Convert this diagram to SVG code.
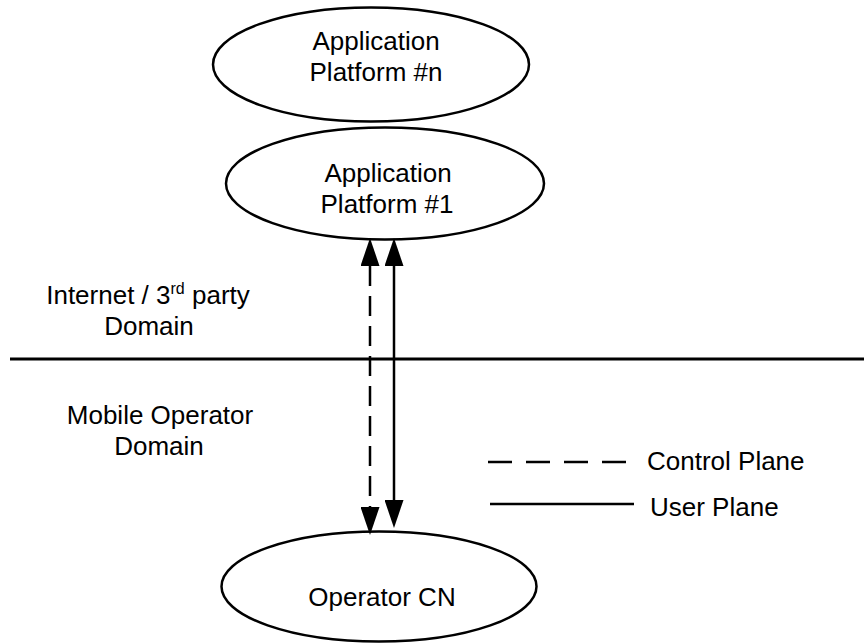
<svg xmlns="http://www.w3.org/2000/svg" width="864" height="644" viewBox="0 0 864 644">
  <style>
    .node { fill: #ffffff; stroke: #000000; stroke-width: 2.5; }
    .lbl { font-family: "Liberation Sans", Arial, sans-serif; font-size: 26px; fill: #000000; text-anchor: middle; }
    .leg { font-family: "Liberation Sans", Arial, sans-serif; font-size: 26px; fill: #000000; }
    .conn { stroke: #000000; stroke-width: 2.5; fill: none; }
    .dash { stroke-dasharray: 20 10; }
  </style>
  <defs>
    <marker id="ah" markerUnits="userSpaceOnUse" viewBox="0 0 28 19" refX="0" refY="9.5" markerWidth="28" markerHeight="19" orient="auto-start-reverse">
      <path d="M0,0 L28,9.5 L0,19 z" fill="#000000"/>
    </marker>
  </defs>
  <rect width="864" height="644" fill="#ffffff"/>

  <g id="boundary">
    <line x1="10" y1="359" x2="864" y2="359" stroke="#000000" stroke-width="3"/>
    <text class="lbl" x="148" y="304">Internet / 3<tspan font-size="16" dy="-10">rd</tspan><tspan dy="10"> party</tspan></text>
    <text class="lbl" x="149" y="335">Domain</text>
    <text class="lbl" x="160" y="424">Mobile Operator</text>
    <text class="lbl" x="159" y="455">Domain</text>
  </g>

  <g id="app-platform-n">
    <ellipse class="node" cx="371" cy="64.5" rx="158" ry="57"/>
    <text class="lbl" x="376" y="50">Application</text>
    <text class="lbl" x="376" y="81">Platform #n</text>
  </g>

  <g id="app-platform-1">
    <ellipse class="node" cx="385" cy="183.5" rx="159" ry="56"/>
    <text class="lbl" x="388" y="182">Application</text>
    <text class="lbl" x="387" y="213">Platform #1</text>
  </g>

  <g id="operator-cn">
    <ellipse class="node" cx="379" cy="586.5" rx="157.5" ry="55"/>
    <text class="lbl" x="382" y="606">Operator CN</text>
  </g>

  <g id="connectors">
    <line class="conn dash" x1="370" y1="266" x2="370" y2="507" marker-start="url(#ah)" marker-end="url(#ah)"/>
    <line class="conn" x1="394" y1="266" x2="394" y2="500" marker-start="url(#ah)" marker-end="url(#ah)"/>
  </g>

  <g id="legend">
    <line class="conn" x1="488" y1="462" x2="626" y2="462" stroke-width="3" stroke-dasharray="24 14"/>
    <text class="leg" x="647" y="470">Control Plane</text>
    <line class="conn" x1="490" y1="504" x2="634" y2="504" stroke-width="3"/>
    <text class="leg" x="650" y="516">User Plane</text>
  </g>
</svg>
